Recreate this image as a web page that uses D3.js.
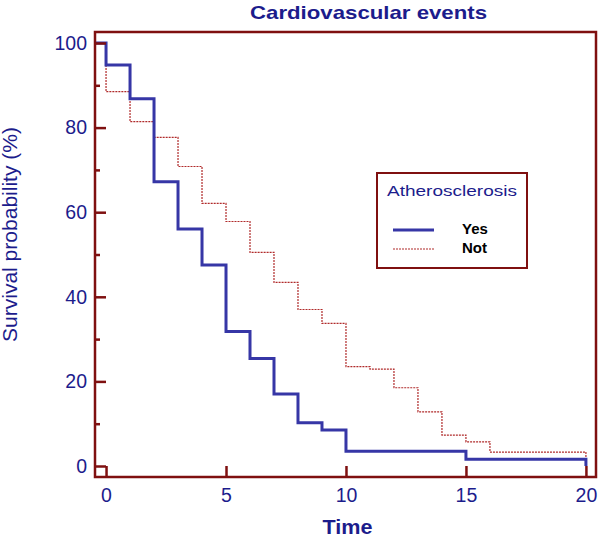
<!DOCTYPE html>
<html><head><meta charset="utf-8">
<script src="https://cdn.jsdelivr.net/npm/d3@7"></script>
<style>body{margin:0;background:#fff}svg{display:block}text{font-family:"Liberation Sans",Arial,sans-serif}</style>
</head><body>
<svg id="c" width="600" height="537"></svg>
<script>
// Data
const yesTimes  = [0, 1, 2, 3, 4, 5, 6, 7, 8, 9, 10, 15, 20];
const yesValues = [94.8, 86.8, 67.2, 56.0, 47.5, 31.8, 25.4, 17.0, 10.2, 8.5, 3.5, 1.6, 0];
const notTimes  = [0, 1, 2, 3, 4, 5, 6, 7, 8, 9, 10, 11, 12, 13, 14, 15, 16, 20];
const notValues = [88.5, 81.4, 77.7, 70.8, 62.1, 57.8, 50.5, 43.4, 37.0, 33.7, 23.5, 22.9, 18.5, 12.8, 7.3, 5.7, 3.3, 0];
const xTicks = [0, 5, 10, 15, 20];
const yTicks = [0, 20, 40, 60, 80, 100];
const yMinorTicks = [10, 30, 50, 70, 90];
const seriesNames = ["Yes", "Not"];

const svg = d3.select("#c");
const maroon = "#7f1010";
const navy = "#1c1c8c";
const blue = "#3636a6";
const red = "#b02a2a";

const x = d3.scaleLinear().domain([-0.46, 20.42]).range([95, 596]);
const y = d3.scaleLinear().domain([-2.6, 102.6]).range([477, 32]);

const line = d3.line().x(d => x(d[0])).y(d => y(d[1])).curve(d3.curveStepAfter);
const start = [x.domain()[0], 100];
const notPts = [start].concat(notTimes.map((t, i) => [t, notValues[i]]));
const yesPts = [start].concat(yesTimes.map((t, i) => [t, yesValues[i]]));

svg.append("path").attr("d", line(notPts)).attr("fill", "none")
  .attr("stroke", red).attr("stroke-width", 1.2).attr("stroke-dasharray", "2,1");
svg.append("path").attr("d", line(yesPts)).attr("fill", "none")
  .attr("stroke", blue).attr("stroke-width", 3);

// Frame
svg.append("rect").attr("x", x.range()[0]).attr("y", y.range()[1])
  .attr("width", x.range()[1] - x.range()[0]).attr("height", y.range()[0] - y.range()[1])
  .attr("fill", "none").attr("stroke", maroon).attr("stroke-width", 2.5);

// Axes
const yAx = svg.append("g").attr("transform", `translate(${x.range()[0]},0)`)
  .call(d3.axisLeft(y).tickValues(yTicks).tickSize(-11).tickPadding(8));
const yMin = svg.append("g").attr("transform", `translate(${x.range()[0]},0)`)
  .call(d3.axisLeft(y).tickValues(yMinorTicks).tickSize(-5).tickFormat(""));
const xAx = svg.append("g").attr("transform", `translate(0,${y.range()[0]})`)
  .call(d3.axisBottom(x).tickValues(xTicks).tickSize(-11).tickPadding(11));
[yAx, yMin, xAx].forEach(g => {
  g.select(".domain").remove();
  g.selectAll(".tick line").attr("stroke", maroon).attr("stroke-width", 2.5);
  g.selectAll(".tick text").attr("fill", navy).attr("font-size", 19.5)
    .attr("font-family", '"Liberation Sans",Arial,sans-serif');
});

// Titles
svg.append("text").attr("x", 368.5).attr("y", 19).attr("text-anchor", "middle")
  .attr("font-weight", "bold").attr("font-size", 19).attr("fill", navy)
  .attr("textLength", 237).attr("lengthAdjust", "spacingAndGlyphs")
  .text("Cardiovascular events");
svg.append("text").attr("x", 347.5).attr("y", 534).attr("text-anchor", "middle")
  .attr("font-weight", "bold").attr("font-size", 20).attr("fill", navy)
  .attr("textLength", 50).attr("lengthAdjust", "spacingAndGlyphs").text("Time");
svg.append("text").attr("transform", "translate(17,234.5) rotate(-90)").attr("text-anchor", "middle")
  .attr("font-size", 19.5).attr("fill", navy)
  .attr("textLength", 215).attr("lengthAdjust", "spacingAndGlyphs")
  .text("Survival probability (%)");

// Legend
const lg = svg.append("g");
lg.append("rect").attr("x", 377).attr("y", 173).attr("width", 150).attr("height", 95)
  .attr("fill", "#fff").attr("stroke", maroon).attr("stroke-width", 2);
lg.append("text").attr("x", 387).attr("y", 196).attr("font-size", 15.5).attr("fill", navy)
  .attr("textLength", 130).attr("lengthAdjust", "spacingAndGlyphs").text("Atherosclerosis");
const styles = [{stroke: blue, w: 3, dash: null}, {stroke: red, w: 1.2, dash: "2,1"}];
seriesNames.forEach((n, i) => {
  const yy = 230 + i * 19;
  lg.append("line").attr("x1", 393).attr("x2", 434).attr("y1", yy).attr("y2", yy)
    .attr("stroke", styles[i].stroke).attr("stroke-width", styles[i].w)
    .attr("stroke-dasharray", styles[i].dash);
  lg.append("text").attr("x", 462).attr("y", yy + 3.5).attr("font-size", 15).attr("font-weight", "bold")
    .attr("fill", "#000").text(n);
});
</script>
</body></html>
